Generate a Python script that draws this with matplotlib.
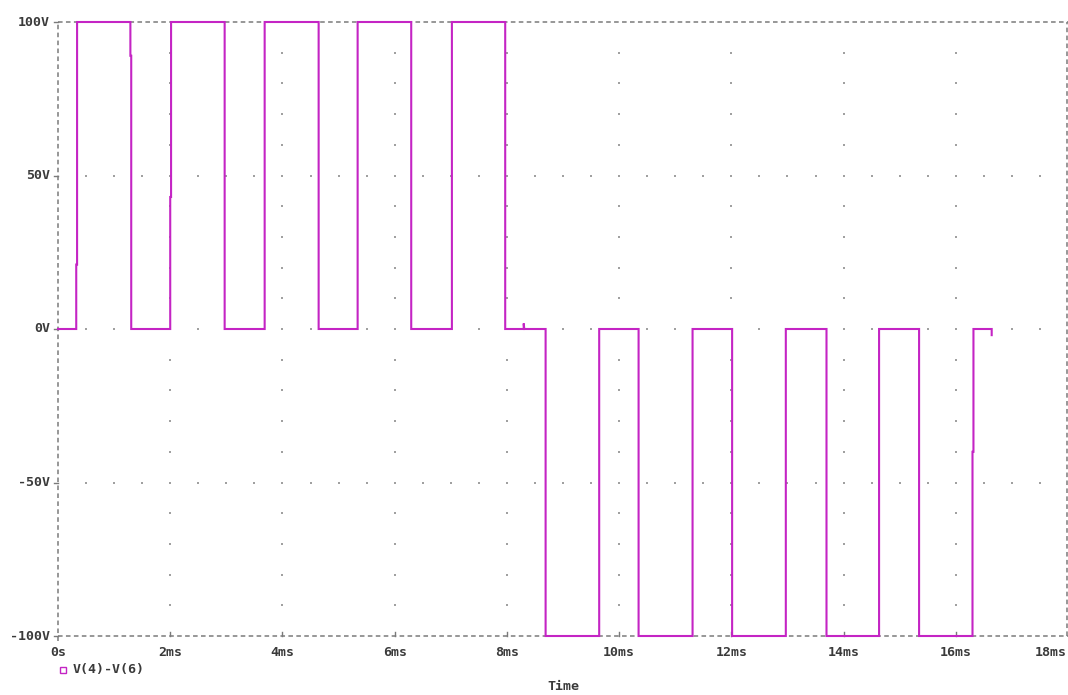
import numpy as np
import matplotlib
matplotlib.use("Agg")
import matplotlib.pyplot as plt
from matplotlib.lines import Line2D

# Waveform V(4)-V(6): breakpoints (time in ms, voltage in V)
t_ms = [0.0, 0.325, 0.325, 0.34, 0.34, 1.29, 1.29, 1.305, 1.305,
        2.0, 2.0, 2.015, 2.015, 2.97, 2.97, 3.683, 3.683, 4.645, 4.645,
        5.34, 5.34, 6.295, 6.295, 7.02, 7.02, 7.97, 7.97,
        8.30, 8.30, 8.31, 8.69, 8.69, 9.645, 9.645, 10.347, 10.347,
        11.309, 11.309, 12.014, 12.014, 12.971, 12.971, 13.696, 13.696,
        14.633, 14.633, 15.346, 15.346, 16.298, 16.298, 16.315, 16.315,
        16.64, 16.64]
volts = [0, 0, 21, 21, 100, 100, 89, 89, 0,
         0, 43, 43, 100, 100, 0, 0, 100, 100, 0,
         0, 100, 100, 0, 0, 100, 100, 0,
         0, 1.8, 0, 0, -100, -100, 0, 0, -100,
         -100, 0, 0, -100, -100, 0, 0, -100,
         -100, 0, 0, -100, -100, -40, -40, 0,
         0, -2]

x_ticks = [0, 2, 4, 6, 8, 10, 12, 14, 16, 18]
x_labels = ["0s", "2ms", "4ms", "6ms", "8ms", "10ms", "12ms", "14ms", "16ms", "18ms"]
y_ticks = [100, 50, 0, -50, -100]
y_labels = ["100V", "50V", "0V", "-50V", "-100V"]

trace_color = "#c424c4"
frame_color = "#7a7a7a"
text_color = "#3a3a3a"
font = dict(family="DejaVu Sans Mono", fontweight="bold", fontsize=9.5, color=text_color)

W, H = 1068, 695
fig = plt.figure(figsize=(W / 100, H / 100), dpi=100)
ax = fig.add_axes([58 / W, 59 / H, 1010 / W, 614 / H])
ax.set_xlim(0, 18)
ax.set_ylim(-100, 100)
ax.axis("off")

# dotted grid: vertical lines at major x ticks, horizontal at inner y ticks
for xv in x_ticks[1:-1]:
    ys = np.arange(-90, 100, 10)
    ax.scatter(np.full(ys.shape, xv), ys, s=1.4, color="#a0a0a0", marker="s",
               linewidths=0, zorder=1)
for yv in [50, 0, -50]:
    xs = np.arange(0.5, 18, 0.5)
    ax.scatter(xs, np.full(xs.shape, yv), s=1.4, color="#a0a0a0", marker="s",
               linewidths=0, zorder=1)

# dashed plot frame
dash = dict(color=frame_color, lw=1.1, dashes=(3, 2.2), clip_on=False, zorder=2)
ax.plot([0, 18], [100, 100], **dash)
ax.plot([0, 18], [-100, -100], **dash)
ax.plot([0, 0], [-101.5, 100], **dash)
ax.plot([17.98, 17.98], [-100, 100], **dash)

# tick marks and labels
for yv, lab in zip(y_ticks, y_labels):
    ax.plot([-0.07, 0], [yv, yv], color=frame_color, lw=1.0, clip_on=False)
    ax.text(-0.14, yv, lab, ha="right", va="center", **font)
for xv, lab in zip(x_ticks, x_labels):
    if 0 < xv < 18:
        ax.plot([xv, xv], [-100, -98.7], color=frame_color, lw=1.0, clip_on=False)
    if xv == x_ticks[-1]:
        ax.text(xv - 0.03, -105.5, lab, ha="right", va="center", **font)
    else:
        ax.text(xv, -105.5, lab, ha="center", va="center", **font)

# waveform
ax.plot(t_ms, volts, color=trace_color, lw=1.5, zorder=3, clip_on=False,
        solid_joinstyle="miter")

# legend entry and axis title
fig.add_artist(Line2D([62.5 / W], [1 - 670 / H], marker="s", markersize=4,
                      markerfacecolor="none", markeredgecolor=trace_color,
                      markeredgewidth=1.0, linestyle="none"))
fig.text(73 / W, 1 - 670 / H, "V(4)-V(6)", ha="left", va="center", **font)
fig.text(563 / W, 1 - 686 / H, "Time", ha="center", va="center", **font)

fig.savefig("out.png", dpi=100, facecolor="white")
